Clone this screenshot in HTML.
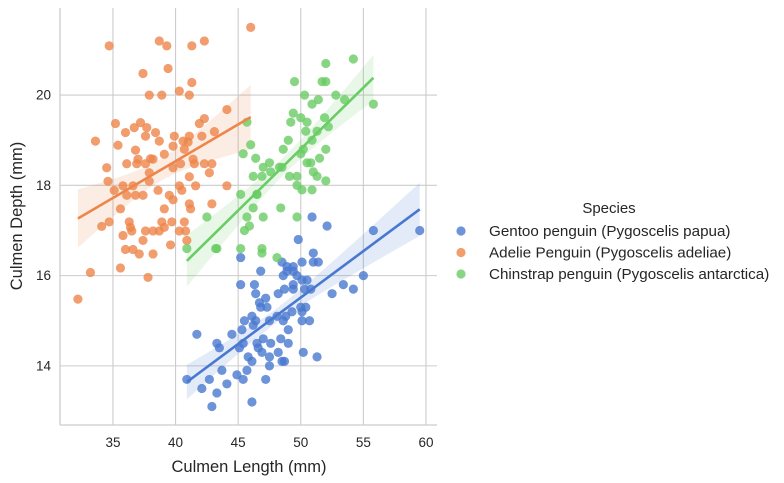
<!DOCTYPE html>
<html><head><meta charset="utf-8">
<style>
html,body{margin:0;padding:0;background:#fff;}
svg{display:block;font-family:"Liberation Sans","DejaVu Sans",sans-serif;}
</style></head>
<body>
<svg id="chart" width="784" height="483"></svg>
<script>
const xTicks = [35, 40, 45, 50, 55, 60];
const yTicks = [14, 16, 18, 20];
const speciesNames = ["Gentoo penguin (Pygoscelis papua)", "Adelie Penguin (Pygoscelis adeliae)", "Chinstrap penguin (Pygoscelis antarctica)"];
const gentooX = [40.9,42.1,42.9,43.3,44.1,42.7,41.7,43.3,43.5,43.7,44.5,44.9,45.4,46.1,45.7,45.8,46.1,45.1,45.3,45.5,46.1,46.4,46.2,45.4,46.5,46.6,46.9,47.2,47.5,47.5,47.0,47.6,48.2,48.5,48.7,48.4,49.0,49.0,48.6,47.5,48.1,48.8,49.3,50.1,50.1,50.7,50.4,50.0,46.8,47.3,46.7,47.2,46.4,46.3,45.2,48.2,48.7,49.4,49.4,50.3,50.8,50.5,50.1,49.7,48.6,48.9,49.4,49.4,48.9,48.5,50.1,46.8,45.2,49.8,51.0,51.0,51.4,50.9,52.1,52.5,53.4,54.2,55.0,55.8,59.5,50.2,51.3];
const gentooY = [13.7,13.5,13.1,13.4,13.6,13.7,14.7,14.5,14.4,13.9,14.7,13.8,13.7,13.2,13.9,14.2,14.1,14.4,14.8,15.0,15.1,15.0,14.9,14.5,14.5,14.4,14.3,13.7,14.0,14.2,14.6,14.5,14.3,14.1,14.1,14.6,14.5,14.8,15.0,15.0,15.1,15.1,15.2,15.2,15.0,15.0,15.3,15.3,15.3,15.3,15.4,15.5,15.6,15.8,15.8,15.6,15.7,15.7,15.8,15.7,15.7,15.9,15.9,16.0,16.0,16.1,16.1,16.2,16.2,16.3,16.3,16.1,16.4,16.8,16.5,16.3,16.3,17.3,17.1,15.6,15.8,15.7,16.0,17.0,17.0,14.3,14.2];
const adelieX = [34.7,38.7,39.3,41.3,42.3,46.0,37.4,39.4,41.3,37.9,38.9,40.3,41.1,44.1,35.2,33.6,35.4,36.0,36.7,37.2,37.7,37.6,38.4,38.7,39.9,39.8,40.6,41.1,42.1,41.9,42.3,43.1,36.8,37.0,36.1,36.9,38.0,38.2,39.1,37.6,39.8,40.4,40.7,41.0,41.4,41.5,42.3,42.9,42.7,34.5,34.6,35.1,35.8,36.6,36.1,36.8,37.4,37.9,37.9,38.6,39.5,39.8,40.3,40.5,41.1,41.6,44.1,41.1,41.2,42.9,39.1,35.6,34.7,34.1,36.3,36.4,36.5,35.8,37.6,38.2,38.7,38.9,39.1,39.7,40.3,40.7,40.8,40.9,37.4,36.0,36.6,37.1,38.2,39.6,33.2,35.6,37.8,32.2];
const adelieY = [21.09,21.2,21.09,21.09,21.2,21.5,20.48,20.59,20.28,20.0,20.0,20.09,20.0,19.68,19.37,18.98,18.89,19.17,19.28,19.39,19.28,19.09,19.17,18.98,19.09,18.87,18.98,19.09,19.09,19.37,19.48,19.19,18.78,18.58,18.48,18.48,18.59,18.58,18.69,18.48,18.39,18.48,18.8,18.96,18.58,18.48,18.48,18.48,18.28,18.39,18.09,17.89,17.99,17.99,17.78,17.78,17.78,18.09,18.28,17.89,17.78,17.68,17.99,17.89,18.19,17.99,17.99,17.59,17.48,17.59,17.48,17.48,17.19,17.09,17.19,17.07,16.99,16.89,16.99,16.99,16.99,17.19,17.07,17.19,16.99,17.19,16.99,16.78,16.78,16.58,16.58,16.48,16.48,16.68,16.07,16.17,15.96,15.48];
const chinX = [40.9,43.2,42.5,45.2,45.2,45.4,46.2,45.7,46.4,46.0,45.7,45.5,45.9,46.5,46.5,46.2,47.0,48.4,49.7,46.9,46.9,48.1,43.3,50.1,50.9,50.0,50.5,51.0,51.5,52.0,52.2,51.3,50.9,50.0,50.5,50.3,50.9,49.4,49.2,49.0,48.6,49.1,49.7,50.2,50.4,51.4,52.8,53.5,52.0,52.0,54.2,55.8,51.7,49.5,48.5,47.5,47.0,46.9,49.7,51.3,52.0,50.8,51.9,47.6,48.3];
const chinY = [16.6,16.6,17.3,16.6,17.8,18.7,18.2,19.4,18.6,18.9,17.3,17.0,17.1,17.8,17.8,17.5,17.3,17.5,17.3,16.6,16.5,16.4,16.6,17.9,17.9,18.7,18.5,18.3,18.6,18.8,19.3,19.2,19.0,19.5,19.4,20.0,19.8,19.6,19.4,19.0,18.8,18.2,18.2,18.8,19.2,19.9,20.0,19.9,20.7,20.3,20.8,19.8,20.3,20.3,18.4,18.5,18.4,18.2,18.0,18.2,18.1,18.5,19.5,18.3,18.4];

const NS = "http://www.w3.org/2000/svg";
const svg = document.getElementById("chart");
const L = 60, R = 437, T = 8, B = 425;
const xMin = 30.77, xMax = 60.88, yMin = 12.69, yMax = 21.93;
const sx = v => L + (v - xMin) / (xMax - xMin) * (R - L);
const sy = v => B - (v - yMin) / (yMax - yMin) * (B - T);
function mk(tag, attrs, parent) {
  const e = document.createElementNS(NS, tag);
  for (const k in attrs) e.setAttribute(k, attrs[k]);
  (parent || svg).appendChild(e);
  return e;
}
const colors = ["#4878d0", "#ee854a", "#6acc64"];
const series = [[gentooX, gentooY], [adelieX, adelieY], [chinX, chinY]];

const grid = mk("g", {});


xTicks.forEach(t => {
  const l = mk("line", {x1: sx(t), x2: sx(t), y1: T, y2: B, stroke: "#cccccc", "stroke-width": 1.1}, grid);
  
  
  const tx = mk("text", {x: sx(t), y: B + 22, "text-anchor": "middle", "font-size": 13.5, fill: "#262626"});
  tx.textContent = t;
  
  
});
yTicks.forEach(t => {
  const l = mk("line", {x1: L, x2: R, y1: sy(t), y2: sy(t), stroke: "#cccccc", "stroke-width": 1.1}, grid);
  
  
  const tx = mk("text", {x: L - 9, y: sy(t) + 4.5, "text-anchor": "end", "font-size": 13.5, fill: "#262626"});
  tx.textContent = t;
  
  
});

function fit(xs, ys) {
  const n = xs.length;
  const mx = xs.reduce((a, b) => a + b, 0) / n, my = ys.reduce((a, b) => a + b, 0) / n;
  let sxx = 0, sxy = 0;
  for (let i = 0; i < n; i++) { sxx += (xs[i] - mx) ** 2; sxy += (xs[i] - mx) * (ys[i] - my); }
  const b = sxy / sxx, a = my - b * mx;
  let sse = 0;
  for (let i = 0; i < n; i++) sse += (ys[i] - a - b * xs[i]) ** 2;
  const s = Math.sqrt(sse / (n - 2));
  return {a, b, s, mx, sxx, n, lo: Math.min(...xs), hi: Math.max(...xs)};
}
const fits = series.map(s => fit(s[0], s[1]));

fits.forEach((f, i) => {
  const up = [], dn = [];
  for (let k = 0; k <= 40; k++) {
    const x = f.lo + (f.hi - f.lo) * k / 40;
    const y = f.a + f.b * x;
    const se = 1.98 * f.s * Math.sqrt(1 / f.n + (x - f.mx) ** 2 / f.sxx);
    up.push(sx(x) + "," + sy(y + se));
    dn.unshift(sx(x) + "," + sy(y - se));
  }
  const p = mk("polygon", {points: up.concat(dn).join(" "), fill: colors[i], "fill-opacity": 0.15});
  
  
});

series.forEach((s, i) => {
  const g = mk("g", {});
  
  
  s[0].forEach((x, j) => {
    const c = mk("circle", {cx: sx(x), cy: sy(s[1][j]), r: 4.6, fill: colors[i], "fill-opacity": 0.8}, g);
    
    
  });
});

fits.forEach((f, i) => {
  const l = mk("line", {x1: sx(f.lo), y1: sy(f.a + f.b * f.lo), x2: sx(f.hi), y2: sy(f.a + f.b * f.hi), stroke: colors[i], "stroke-width": 2.6});
  
  
});

const ls = mk("line", {x1: L, x2: L, y1: T, y2: B, stroke: "#cccccc", "stroke-width": 1.3});


const bs = mk("line", {x1: L, x2: R, y1: B, y2: B, stroke: "#cccccc", "stroke-width": 1.3});



const xt = mk("text", {x: 249, y: 472, "text-anchor": "middle", "font-size": 16.5, fill: "#262626"});
xt.textContent = "Culmen Length (mm)";


const yt = mk("text", {x: 0, y: 0, "text-anchor": "middle", "font-size": 16.5, fill: "#262626", transform: "translate(22,216) rotate(-90)"});
yt.textContent = "Culmen Depth (mm)";



const lg = mk("g", {});


const lt = mk("text", {x: 609, y: 213, "text-anchor": "middle", "font-size": 15, fill: "#262626"}, lg);
lt.textContent = "Species";


speciesNames.forEach((n, i) => {
  const y = 231 + i * 21.5;
  const c = mk("circle", {cx: 461, cy: y, r: 4.6, fill: colors[i], "fill-opacity": 0.8}, lg);
  
  
  const t = mk("text", {x: 489, y: y + 5, "font-size": 15.2, fill: "#262626"}, lg);
  t.textContent = n;
  
  
});
</script>
</body></html>
